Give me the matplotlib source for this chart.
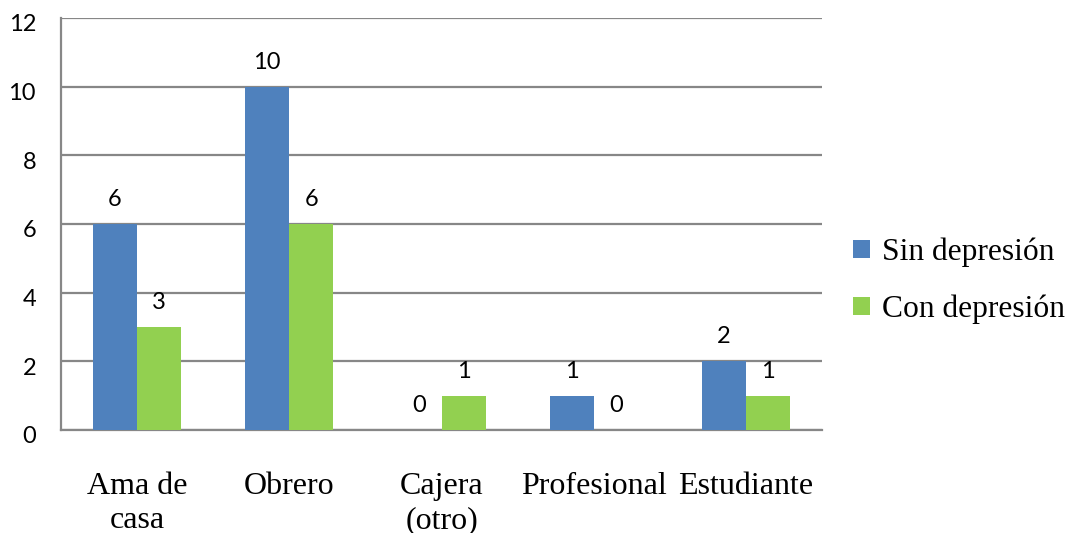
import numpy as np
import matplotlib.pyplot as plt
from matplotlib.transforms import ScaledTranslation

# Datos por ocupación
categorias = ["Ama de\ncasa", "Obrero", "Cajera\n(otro)", "Profesional", "Estudiante"]
sin_depresion = [6, 10, 0, 1, 2]
con_depresion = [3, 6, 1, 0, 1]
series_nombres = ["Sin depresión", "Con depresión"]

azul = "#4F81BD"
verde = "#92D050"
gris = "#878787"

fig = plt.figure(figsize=(10.68, 5.33), dpi=100)
ax = fig.add_axes([61 / 1068, 1 - 430 / 533, (822 - 61) / 1068, (430 - 18) / 533])

x = np.arange(len(categorias))
ancho = 0.29
b1 = ax.bar(x - ancho / 2, sin_depresion, ancho, color=azul, label=series_nombres[0], zorder=3)
b2 = ax.bar(x + ancho / 2, con_depresion, ancho, color=verde, label=series_nombres[1], zorder=3)

# Etiquetas de valor sobre cada barra
for barras in (b1, b2):
    for rect in barras:
        valor = rect.get_height()
        ax.annotate(f"{valor:g}", (rect.get_x() + rect.get_width() / 2, valor),
                    xytext=(0, 10), textcoords="offset points", ha="center", va="bottom",
                    fontsize=17, family="Lato", color="black")

ax.set_xlim(-0.5, len(categorias) - 0.5)
ax.set_ylim(0, 12)
ax.set_yticks(range(0, 13, 2))
ax.yaxis.grid(True, color=gris, linewidth=1.6, zorder=0)
ax.set_axisbelow(True)

for lado in ("top", "right"):
    ax.spines[lado].set_visible(False)
for lado in ("left", "bottom"):
    ax.spines[lado].set_color(gris)
    ax.spines[lado].set_linewidth(1.6)

ax.tick_params(axis="y", length=0, pad=18)
ax.tick_params(axis="x", length=0, pad=30)
ax.set_xticks(x)
ax.set_xticklabels(categorias, family="Liberation Serif", fontsize=23, linespacing=1.24)

# números del eje y un poco por debajo de cada línea
bajar = ScaledTranslation(0, -3.5 / 72, fig.dpi_scale_trans)
for tick in ax.yaxis.get_major_ticks():
    tick.label1.set_family("Lato")
    tick.label1.set_fontsize(17)
    tick.label1.set_transform(tick.label1.get_transform() + bajar)

fig.legend(handles=[b1, b2], labels=series_nombres, loc="center left",
           bbox_to_anchor=(853 / 1068, 1 - 281 / 533), bbox_transform=fig.transFigure,
           frameon=False, prop={"family": "Liberation Serif", "size": 22.7},
           handlelength=0.55, handleheight=0.5, handletextpad=0.36,
           labelspacing=0.88, borderpad=0, borderaxespad=0)

fig.savefig("out.png", dpi=100)
